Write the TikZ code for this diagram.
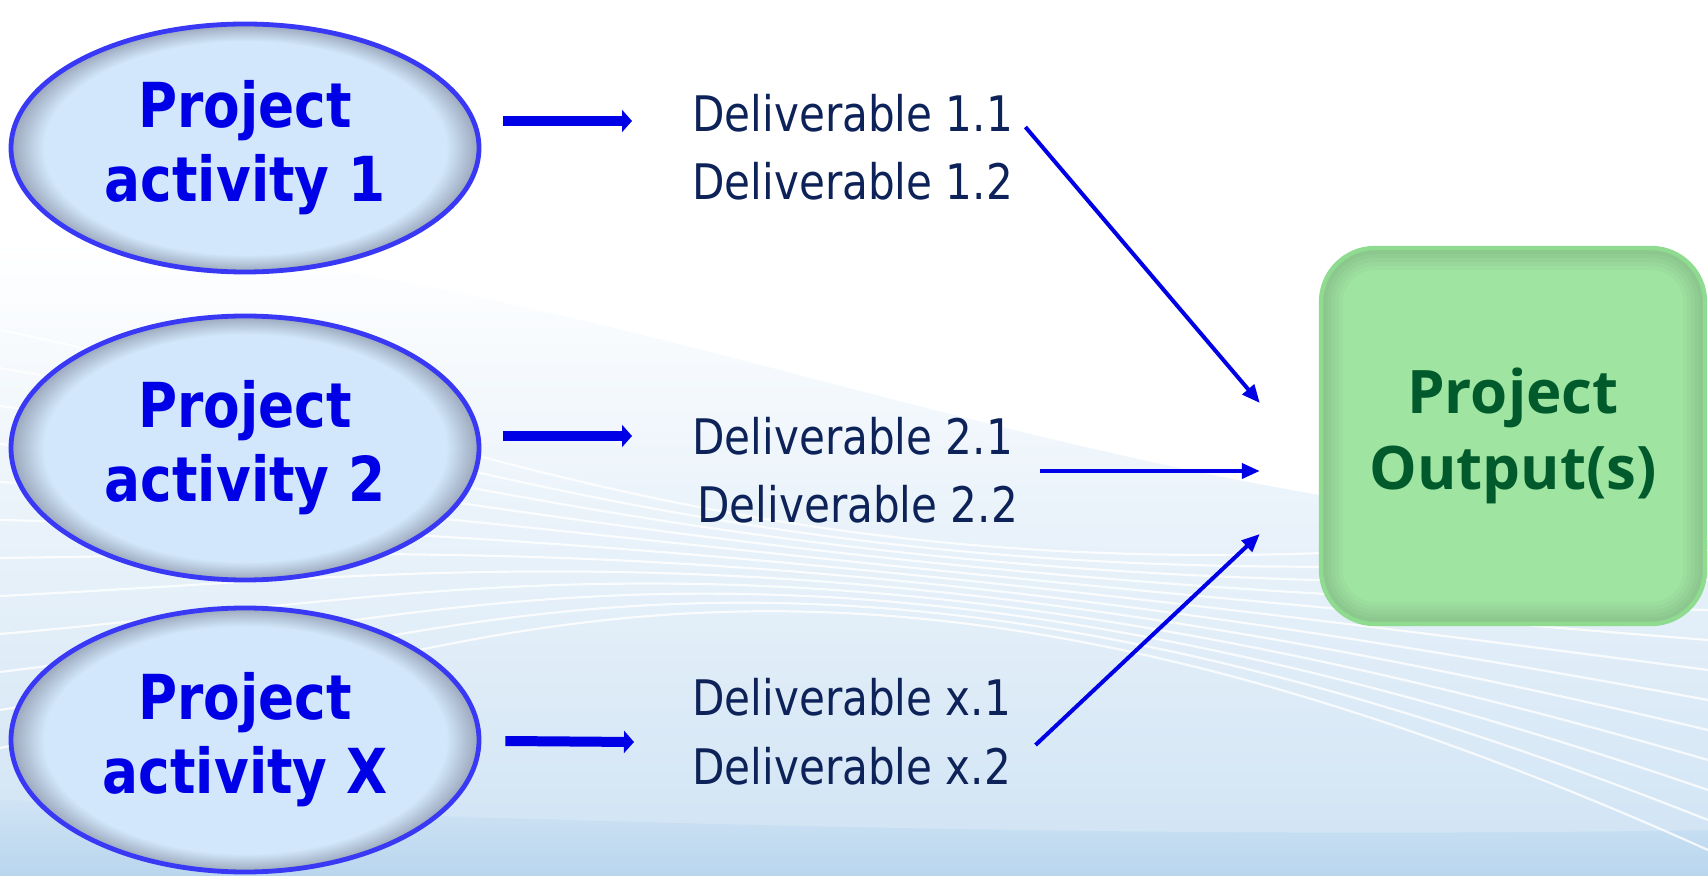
\documentclass[tikz,border=0pt]{standalone}
\usepackage{fontspec}
\setmainfont{DejaVu Sans}[FakeStretch=0.86]
\newfontfamily\outfont{Open Sans}
\usetikzlibrary{shapes.geometric}
\usetikzlibrary{arrows.meta}
\usetikzlibrary{positioning}
\definecolor{actfill}{HTML}{D2E7FB}
\definecolor{actshade}{HTML}{9AA6BA}
\definecolor{actedge}{HTML}{3838F5}
\definecolor{acttext}{HTML}{0000E6}
\definecolor{deltext}{HTML}{0C2258}
\definecolor{outfill}{HTML}{A0E4A2}
\definecolor{outedge}{HTML}{8FDB90}
\definecolor{outtext}{HTML}{005A2B}
\definecolor{bgblue}{HTML}{CFE3F4}
\definecolor{bgdeep}{HTML}{B9D6EE}
\pgfdeclareradialshading{actshading}{\pgfpoint{0bp}{0bp}}{color(0bp)=(actfill); color(21.5bp)=(actfill); color(25bp)=(actshade); color(50bp)=(actshade)}
\begin{document}
\begin{tikzpicture}[x=0.5pt,y=-0.5pt,
        activity/.style={ellipse,draw=actedge,line width=2.4pt,shade,shading=actshading,minimum width=234pt,minimum height=132pt,inner sep=0pt,align=center,text=acttext,font=\fontsize{31}{37}\selectfont\bfseries},
        deliv/.style={anchor=west,inner sep=0pt,text=deltext,font=\fontsize{24.5}{29}\selectfont},
        output/.style={rectangle,rounded corners=27pt,draw=outedge,line width=2.2pt,fill=outfill,minimum width=192pt,minimum height=188pt,align=center,text=outtext,font=\outfont\fontsize{30}{38}\selectfont\bfseries,
            path picture={\foreach \w in {22,18,14,10,6}{\draw[black,opacity=0.022,line width=\w pt,rounded corners=27pt] (path picture bounding box.south west) rectangle (path picture bounding box.north east);}}},
        fatarrow/.style={acttext,line width=5pt,-{Triangle[length=5pt,width=11pt]}},
        thinarrow/.style={acttext,line width=2pt,-{Triangle[length=9pt,width=7.5pt]}}]%
        \useasboundingbox (0,0) rectangle (1708,876);%
        % background waves
        \shade[top color=white,bottom color=bgblue] (0,240) .. controls (600,250) and (1000,500) .. (1708,540) -- (1708,876) -- (0,876) -- cycle;%
        \shade[top color=bgblue,bottom color=bgdeep] (0,800) .. controls (500,820) and (1100,840) .. (1708,830) -- (1708,876) -- (0,876) -- cycle;%
        \begin{scope}%
            \clip (0,240) .. controls (600,250) and (1000,500) .. (1708,540) -- (1708,876) -- (0,876) -- cycle;%
            \foreach \k in {0,...,11}{%
                \draw[white,line width=1.1pt,opacity=0.8] (0,{330+38*\k}) .. controls (450,{420+22*\k}) and (800,{640-18*\k}) .. (1708,{520+30*\k});%
            }%
        \end{scope}%
        % activities
        \node[activity,minimum height=124pt] (act1) at (245,148) {Project\\activity 1};%
        \node[activity] (act2) at (245,448) {Project\\activity 2};%
        \node[activity] (actx) at (245,740) {Project\\activity X};%
        % deliverables
        \node[deliv] (del11) at (692,113) {Deliverable 1.1};%
        \node[deliv] (del12) at (692,181) {Deliverable 1.2};%
        \node[deliv] (del21) at (692,436) {Deliverable 2.1};%
        \node[deliv] (del22) at (697,504) {Deliverable 2.2};%
        \node[deliv] (delx1) at (692,697) {Deliverable x.1};%
        \node[deliv] (delx2) at (692,766) {Deliverable x.2};%
        % output
        \node[output] (out) at (1513,436) {Project\\Output(s)};%
        % arrows
        \draw[fatarrow] ([shift={(22,-27)}]act1.east) -- ([shift={(-60,8)}]del11.west);%
        \draw[fatarrow] ([shift={(22,-12)}]act2.east) -- ([shift={(-60,0)}]del21.west);%
        \draw[fatarrow] ([shift={(24,1)}]actx.east) -- ([shift={(-58,45)}]delx1.west);%
        \draw[thinarrow] ([shift={(12,14)}]del11.east) -- ([shift={(-59,-33)}]out.west);%
        \draw[thinarrow] ([shift={(22,-33)}]del22.east) -- ([shift={(-59,35)}]out.west);%
        \draw[thinarrow] ([shift={(24,-21)}]delx2.east) -- ([shift={(-59,98)}]out.west);%
\end{tikzpicture}
\end{document}
